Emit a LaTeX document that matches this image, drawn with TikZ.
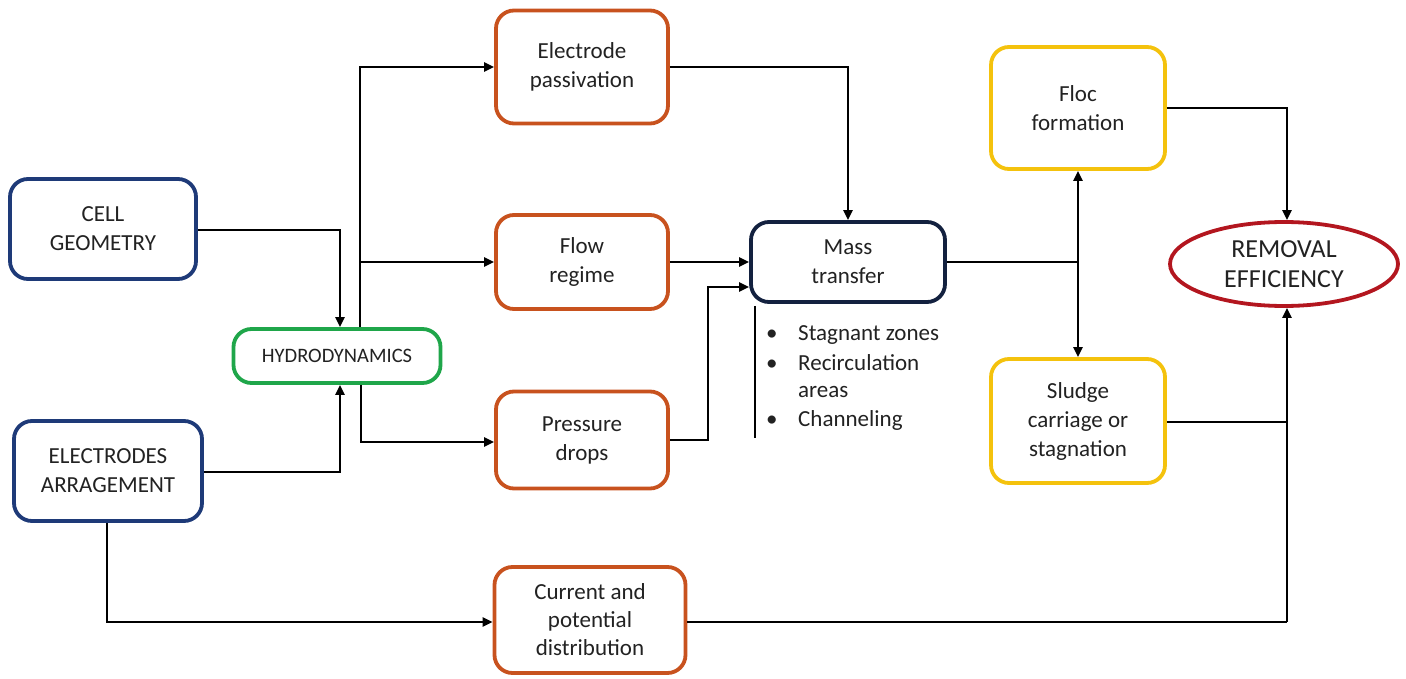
\documentclass[tikz,border=0pt]{standalone}
\usepackage{fontspec}
\setmainfont{Carlito}
\usetikzlibrary{shapes.geometric,arrows.meta}
\definecolor{navy}{HTML}{1E3A78}
\definecolor{dnavy}{HTML}{13213F}
\definecolor{grn}{HTML}{1FA64A}
\definecolor{orng}{HTML}{C8521E}
\definecolor{yel}{HTML}{F4C20D}
\definecolor{rd}{HTML}{B3161F}
\definecolor{txt}{HTML}{222222}
\tikzset{
  bx/.style 2 args={draw, line width=3.8pt, rounded corners=18pt, fill=white, align=center,
    minimum width=#1, minimum height=#2, inner sep=0pt, text=txt,
    font=\fontsize{23}{29}\selectfont},
  conn/.style={draw=black, line width=2.4pt},
  arr/.style={conn, -{Triangle[length=10pt,width=9pt]}},
  darr/.style={conn, {Triangle[length=10pt,width=9pt]}-{Triangle[length=10pt,width=9pt]}},
  bul/.style={anchor=west, inner sep=0pt, text=txt, font=\fontsize{23}{29}\selectfont}
}
\newcommand{\bulmark}{\makebox[32pt][l]{\textbullet}}
\begin{document}
\begin{tikzpicture}[x=1pt,y=-1pt]
\useasboundingbox (0,0) rectangle (1406,679);
% nodes
\node[bx={186pt}{100pt}, draw=navy] (cell) at (103,229) {CELL\\GEOMETRY};
\node[bx={188pt}{100pt}, draw=navy] (elec) at (108,471) {ELECTRODES\\ARRAGEMENT};
\node[bx={207pt}{54pt}, draw=grn, font=\fontsize{20.5}{24}\selectfont] (hyd) at (337,356) {HYDRODYNAMICS};
\node[bx={172pt}{113pt}, draw=orng] (pass) at (582,67) {Electrode\\passivation};
\node[bx={172pt}{94pt}, draw=orng] (flow) at (582,262) {Flow\\regime};
\node[bx={172pt}{97pt}, draw=orng] (pres) at (582,440) {Pressure\\drops};
\node[bx={191pt}{106pt}, draw=orng, font=\fontsize{23}{28}\selectfont] (curr) at (590,620) {Current and\\potential\\distribution};
\node[bx={194pt}{80pt}, draw=dnavy] (mass) at (848,262) {Mass\\transfer};
\node[bx={174pt}{122pt}, draw=yel] (floc) at (1078,108) {Floc\\formation};
\node[bx={174pt}{124pt}, draw=yel] (sludge) at (1078,421) {Sludge\\carriage or\\stagnation};
\node[draw=rd, line width=3.8pt, ellipse, fill=white, minimum width=228pt, minimum height=84pt,
  inner sep=0pt, align=center, text=txt, font=\fontsize{26}{30}\selectfont] (rem) at (1284,264) {REMOVAL\\EFFICIENCY};
% bullet list
\node[bul] (b1) at (766,335) {\bulmark Stagnant zones};
\node[bul] (b2) at (766,363) {\bulmark Recirculation};
\node[bul] (b3) at (798,392) {areas};
\node[bul] (b4) at (766,420) {\bulmark Channeling};
\coordinate (vlend) at (755,438);
\draw[conn] (mass.south west -| vlend) ++(0,-2pt) -- (vlend);
% coordinates
\coordinate (jm) at (1077,262);
\coordinate (jr) at (1287,422);
\coordinate (cb) at (1287,622);
% connectors
\draw[arr] (cell.east |- 0,230) -| (hyd.north -| 340,0);
\draw[arr] (elec.east |- 0,472) -| (hyd.south -| 340,0);
\draw[arr] (hyd.north -| 360,0) |- (pass.west);
\draw[arr] (360,262) -- (flow.west);
\draw[arr] (hyd.south -| 361,0) |- (pres.west |- 0,442);
\draw[arr] (pass.east) -| (mass.north);
\draw[arr] (flow.east) -- (mass.west);
\draw[arr] (pres.east) -| (708,287) -- (mass.west |- 0,287);
\draw[conn] (mass.east) -- (jm);
\draw[darr] (floc.south) -- (sludge.north);
\draw[arr] (floc.east) -| (rem.north -| 1287,0);
\draw[conn] (sludge.east |- jr) -- (jr);
\draw[arr] (elec.south -| 107,0) |- (curr.west |- cb);
\draw[conn] (curr.east |- cb) -- (cb);
\draw[arr] (cb) -- (rem.south -| 1287,0);
\end{tikzpicture}
\end{document}
